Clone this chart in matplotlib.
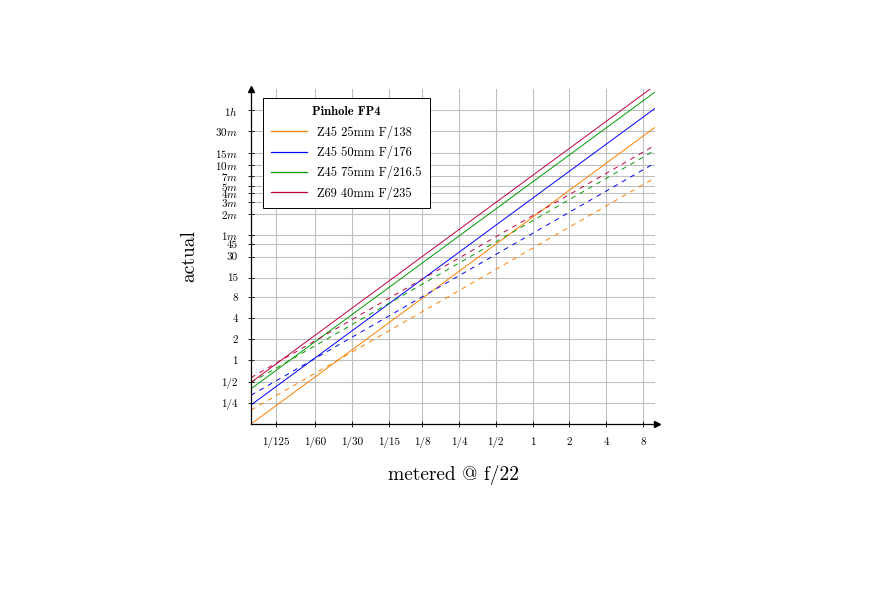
import matplotlib
matplotlib.use("Agg")
import matplotlib.pyplot as plt
from matplotlib.lines import Line2D
from matplotlib.ticker import NullLocator

plt.rcParams['font.family'] = 'serif'
plt.rcParams['font.serif'] = ['cmr10', 'DejaVu Serif']
plt.rcParams['mathtext.fontset'] = 'cm'
plt.rcParams['axes.unicode_minus'] = False
plt.rcParams['lines.scale_dashes'] = False

# metered exposure (s) at the two ends of the axis
metered = [1 / 200, 10]

# series: label, colour, actual time (s) with plain factor (dashed), with reciprocity (solid)
labels = ["Z45 25mm F/138", "Z45 50mm F/176", "Z45 75mm F/216.5", "Z69 40mm F/235"]
colors = ["#ff8000", "#0000ff", "#009900", "#bf0040"]
factor_only = [[0.197, 393], [0.32, 640], [0.484, 968], [0.57, 1141]]
reciprocity = [[0.125, 2050], [0.233, 3820], [0.396, 6515], [0.488, 8080]]

xticks = [1 / 125, 1 / 60, 1 / 30, 1 / 15, 1 / 8, 1 / 4, 1 / 2, 1, 2, 4, 8]
xticklabels = ["1/125", "1/60", "1/30", "1/15", "1/8", "1/4", "1/2", "1", "2", "4", "8"]
yticks = [0.25, 0.5, 1, 2, 4, 8, 15, 30, 45, 60, 120, 180, 240, 300, 420, 600, 900, 1800, 3600]
yticklabels = ["1/4", "1/2", "1", "2", "4", "8", "15", "30", "45",
               "$1m$", "$2m$", "$3m$", "$4m$", "$5m$", "$7m$", "$10m$", "$15m$", "$30m$", "$1h$"]

fig = plt.figure(figsize=(8.75, 5.91), dpi=100)
ax = fig.add_axes([251 / 875, 1 - 424 / 591, 404 / 875, 335 / 591])

for c, d, s in zip(colors, factor_only, reciprocity):
    ax.plot(metered, d, color=c, lw=0.7, linestyle=(0, (3.5, 3.5)))
    ax.plot(metered, s, color=c, lw=0.7)

ax.set_xscale('log', base=2)
ax.set_yscale('log', base=2)
ax.set_xlim(1 / 200, 10)
ax.set_ylim(1 / 8, 7200)

ax.set_xticks(xticks)
ax.set_xticklabels(xticklabels)
ax.set_yticks(yticks)
ax.set_yticklabels(yticklabels)
ax.xaxis.set_minor_locator(NullLocator())
ax.yaxis.set_minor_locator(NullLocator())
ax.tick_params(axis='both', direction='inout', length=5, width=0.6, labelsize=8)
ax.tick_params(axis='x', pad=7)
ax.tick_params(axis='y', pad=7)

ax.grid(True, color='#bfbfbf', lw=0.8)
ax.set_axisbelow(True)
for side in ['top', 'right']:
    ax.spines[side].set_visible(False)
for side in ['left', 'bottom']:
    ax.spines[side].set_linewidth(0.9)

# axis arrows
ax.plot(1.005, 0, '>k', ms=4, transform=ax.transAxes, clip_on=False)
ax.plot(0, 1.0, '^k', ms=4, transform=ax.transAxes, clip_on=False)

ax.set_xlabel("metered @ f/22", fontsize=14, labelpad=12)
ax.set_ylabel("actual", fontsize=14, labelpad=12)

handles = [Line2D([], [], color=c, lw=0.9) for c in colors]
leg = ax.legend(handles, labels, loc='upper left', bbox_to_anchor=(0.03, 0.973),
                fontsize=9, title="Pinhole FP4", frameon=True, fancybox=False,
                edgecolor='black', framealpha=1, handlelength=2.9, handletextpad=0.8,
                labelspacing=0.55, borderpad=0.65, borderaxespad=0)
leg.get_frame().set_linewidth(0.7)
leg.get_title().set_fontfamily('cmb10')
leg.get_title().set_fontsize(9)

fig.savefig("out.png", dpi=100)
